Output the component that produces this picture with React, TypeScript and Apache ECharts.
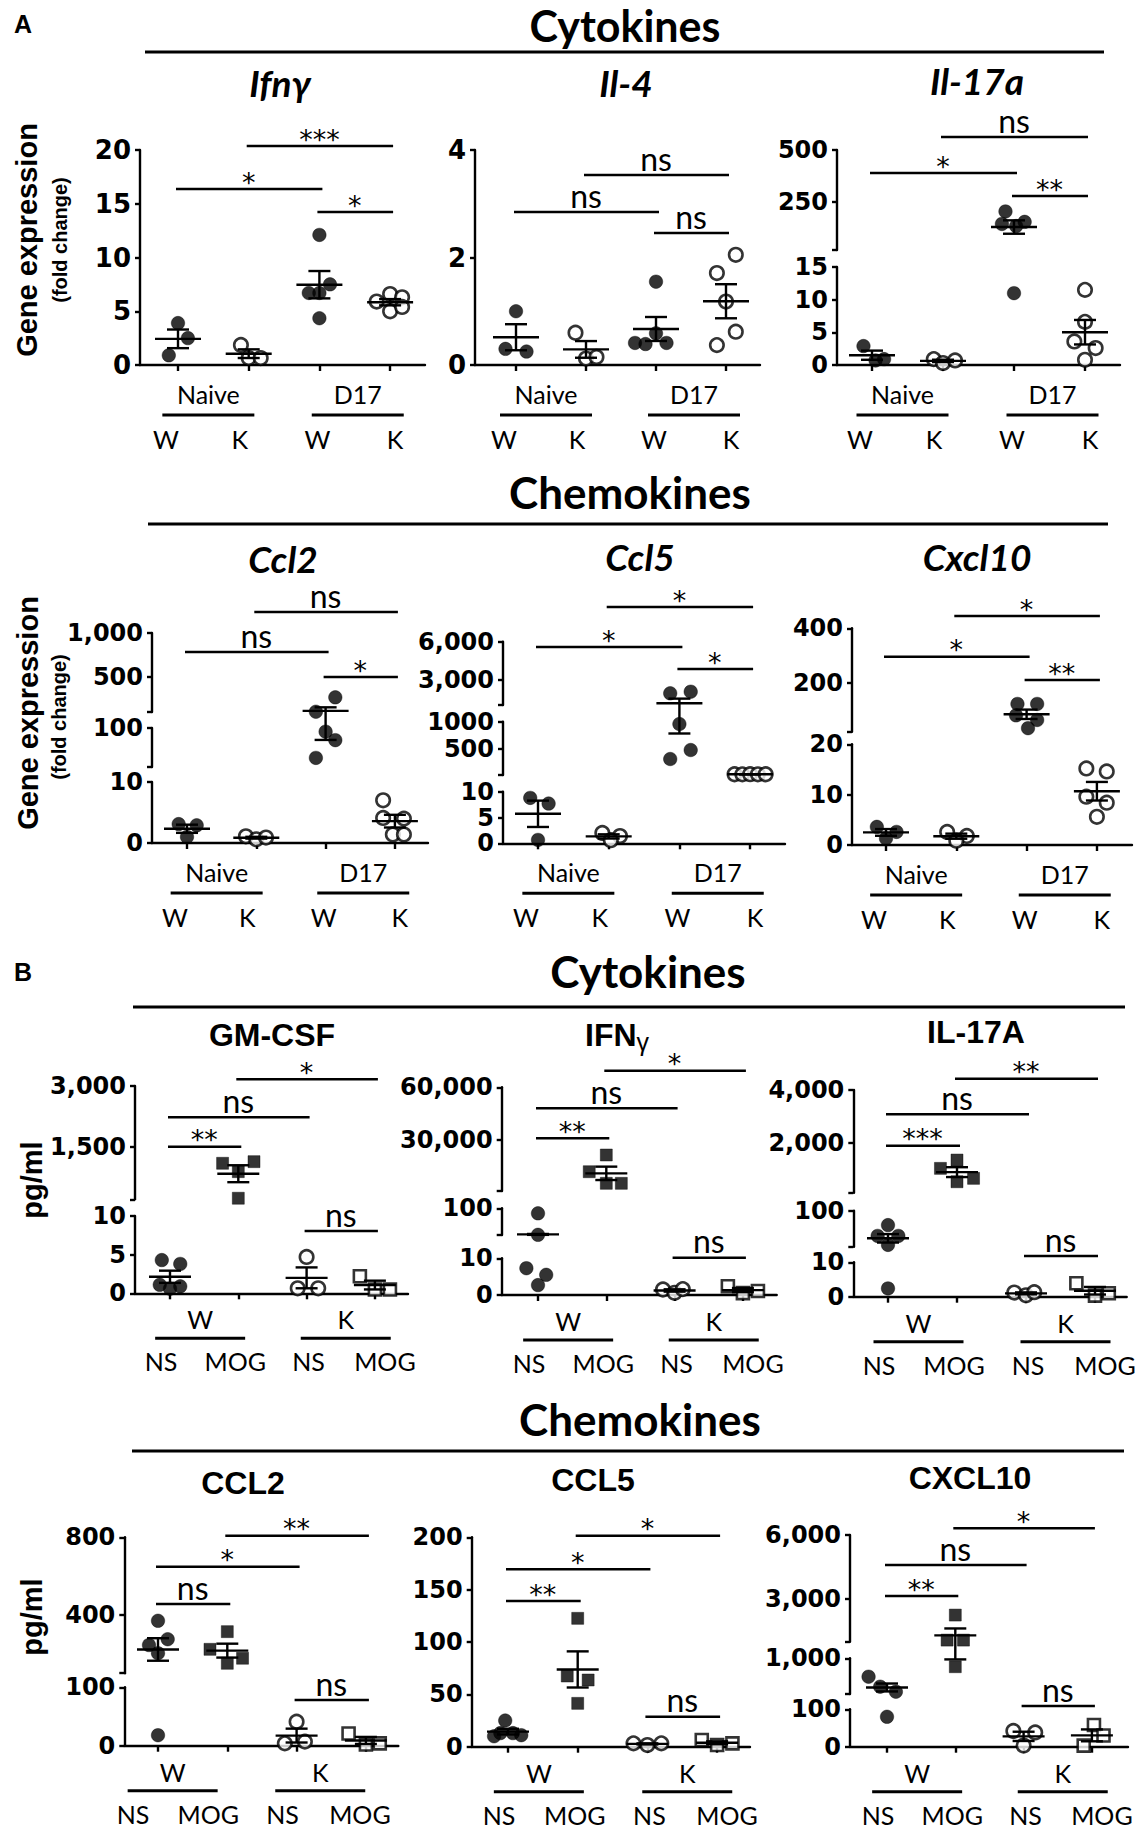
import React, { useEffect, useRef } from "react";
import * as echarts from "echarts";

type Pt = [number, number];
type Seg = [number, number, number[], boolean?];
type Sig = [number, number, string];

// ---------------- categories / labels ----------------
const catsA = ["W", "K", "W", "K"];
const groupsA = ["Naive", "D17"];
const catsB = ["NS", "MOG", "NS", "MOG"];
const groupsB = ["W", "K"];

// ---------------- A: gene expression (fold change) ----------------
// each group: [jitter (category units), value]; groups: Naive W, Naive K, D17 W, D17 K
const ifngPts: Pt[][] = [
  [[0, 3.9], [0.14, 2.5], [-0.13, 0.9]],
  [[-0.11, 1.86], [0, 0.65], [0.17, 0.65]],
  [[0, 12.1], [0.15, 7.5], [-0.15, 6.7], [0, 6.7], [0, 4.35]],
  [[-0.19, 5.9], [0, 6.6], [0.17, 6.3], [0, 5.0], [0.17, 5.4]],
];
const il4Pts: Pt[][] = [
  [[0, 1.0], [-0.15, 0.3], [0.15, 0.25]],
  [[-0.15, 0.6], [0, 0.12], [0.15, 0.15]],
  [[0, 1.55], [-0.3, 0.41], [-0.15, 0.39], [0.15, 0.41], [0, 0.59]],
  [[0.14, 2.05], [-0.13, 1.71], [0, 1.18], [0.14, 0.62], [-0.13, 0.37]],
];
const il17Pts: Pt[][] = [
  [[-0.12, 2.9], [0.05, 0.7], [0.17, 0.9]],
  [[-0.13, 0.9], [0, 0.3], [0.17, 0.7]],
  [[-0.12, 205], [-0.17, 145], [0.03, 135], [0.15, 155], [0, 11]],
  [[0, 11.5], [0, 6.6], [-0.15, 3.6], [0.15, 2.6], [0, 0.8]],
];
const ccl2APts: Pt[][] = [
  [[-0.12, 3.1], [0.14, 2.9], [0, 1.0]],
  [[-0.15, 1.1], [0, 0.6], [0.14, 0.9]],
  [[0.14, 267], [-0.14, 103], [0, 91.5], [0.14, 72], [-0.14, 31]],
  [[-0.17, 7.0], [-0.17, 4.1], [0.13, 4.0], [-0.03, 1.4], [0.13, 1.4]],
];
const ccl5APts: Pt[][] = [
  [[-0.11, 8.8], [0.15, 7.7], [0, 0.65]],
  [[-0.09, 2.0], [0.16, 1.4], [0.03, 0.6]],
  [[-0.13, 1924], [0.16, 2050], [0, 957], [-0.13, 307], [0.16, 474]],
  [[-0.22, 24], [-0.11, 22], [0, 25], [0.11, 23], [0.22, 24]],
];
const cxcl10APts: Pt[][] = [
  [[-0.13, 3.6], [0.15, 2.6], [0, 1.3]],
  [[-0.13, 2.6], [0.15, 1.8], [0, 0.85]],
  [[-0.13, 122], [0.15, 122], [-0.15, 80], [0.15, 63], [0.02, 33]],
  [[-0.15, 15.2], [0.14, 14.6], [-0.15, 9.6], [0.14, 8.4], [0, 5.6]],
];

// ---------------- B: protein (pg/ml) ----------------
// groups: W NS, W MOG, K NS, K MOG
const gmcsfPts: Pt[][] = [
  [[-0.12, 4.3], [0.15, 3.8], [-0.15, 1.1], [0.15, 0.9], [0, 0.6]],
  [[-0.23, 1090], [0.23, 1130], [0, 883], [0, 226]],
  [[0, 4.7], [-0.13, 0.65], [0.17, 0.65]],
  [[-0.22, 2.2], [0, 0.5], [0.22, 0.5]],
];
const ifngBPts: Pt[][] = [
  [[0, 83], [0, 10.5], [-0.17, 7.3], [0.12, 5.5], [0, 2.7]],
  [[0, 21480], [-0.25, 11975], [0, 5370], [0.22, 5370]],
  [[-0.17, 1.5], [0, 0.6], [0.12, 1.6]],
  [[-0.22, 2.4], [0, 0.5], [0.22, 1.1]],
];
const ifngBStats: (number[] | null)[] = [[12, 1.5], null, null, null];
const il17BPts: Pt[][] = [
  [[0, 64], [-0.15, 37], [0.15, 37], [0, 14.5], [0, 2.4]],
  [[0, 1343], [-0.24, 1027], [0.24, 648], [0, 519]],
  [[-0.17, 1.2], [0, 0.4], [0.12, 1.3]],
  [[-0.27, 3.9], [0, 0.3], [0.2, 1.0]],
];
const ccl2BPts: Pt[][] = [
  [[0, 370], [0.14, 275], [-0.13, 245], [0, 203], [0, 18]],
  [[0, 314], [-0.25, 223], [0.22, 177], [0, 151]],
  [[0, 41], [-0.17, 4], [0.12, 7]],
  [[-0.25, 21], [0, 2], [0.2, 4]],
];
const ccl5BPts: Pt[][] = [
  [[-0.04, 25], [-0.11, 13], [0.07, 13], [0.19, 11], [-0.2, 10]],
  [[0, 122.6], [-0.15, 67.5], [0.15, 63.7], [0, 41.4]],
  [[-0.2, 3.2], [0, 1.6], [0.2, 3.2]],
  [[-0.22, 6.4], [0, 1.6], [0.22, 3.2]],
];
const cxcl10BPts: Pt[][] = [
  [[-0.27, 536], [-0.1, 284], [0.13, 158], [0, 80]],
  [[0, 2248], [-0.12, 1075], [0.12, 1075], [0, 788]],
  [[-0.15, 42], [0.17, 38], [0, 3]],
  [[0.03, 58], [0.17, 30], [-0.12, 3]],
];

// ---------------- axis segments: [min, max, labelled ticks, comma] (bottom -> top) ----------------
const ifngAxis: Seg[] = [[0, 20, [0, 5, 10, 15, 20]]];
const il4Axis: Seg[] = [[0, 4, [0, 2, 4]]];
const il17Axis: Seg[] = [[0, 15, [0, 5, 10, 15]], [20, 500, [250, 500]]];
const ccl2AAxis: Seg[] = [[0, 10, [0, 10]], [10, 100, [50, 100]], [100, 1000, [500, 1000]]];
const ccl5AAxis: Seg[] = [[0, 10, [0, 5, 10]], [10, 1000, [500, 1000], false], [1000, 6000, [3000, 6000]]];
const cxcl10AAxis: Seg[] = [[0, 20, [0, 10, 20]], [20, 400, [200, 400]]];
const gmcsfAxis: Seg[] = [[0, 10, [0, 5, 10]], [200, 3000, [1500, 3000]]];
const ifngBAxis: Seg[] = [[0, 10, [0, 10]], [10, 100, [100]], [1000, 60000, [30000, 60000]]];
const il17BAxis: Seg[] = [[0, 10, [0, 10]], [10, 100, [100]], [100, 4000, [2000, 4000]]];
const ccl2BAxis: Seg[] = [[0, 100, [0, 100]], [100, 800, [400, 800]]];
const ccl5BAxis: Seg[] = [[0, 200, [0, 50, 100, 150, 200]]];
const cxcl10BAxis: Seg[] = [[0, 100, [0, 100]], [100, 1000, [1000]], [1000, 6000, [3000, 6000]]];

// ---------------- significance comparisons ----------------
const ifngSig: Sig[] = [[1, 3, "***"], [0, 2, "*"], [2, 3, "*"]];
const il4Sig: Sig[] = [[1, 3, "ns"], [0, 2, "ns"], [2, 3, "ns"]];
const il17Sig: Sig[] = [[1, 3, "ns"], [0, 2, "*"], [2, 3, "**"]];
const ccl2ASig: Sig[] = [[1, 3, "ns"], [0, 2, "ns"], [2, 3, "*"]];
const ccl5ASig: Sig[] = [[1, 3, "*"], [0, 2, "*"], [2, 3, "*"]];
const cxcl10ASig: Sig[] = [[1, 3, "*"], [0, 2, "*"], [2, 3, "**"]];
const gmcsfSig: Sig[] = [[1, 3, "*"], [0, 2, "ns"], [0, 1, "**"], [2, 3, "ns"]];
const ifngBSig: Sig[] = [[1, 3, "*"], [0, 2, "ns"], [0, 1, "**"], [2, 3, "ns"]];
const il17BSig: Sig[] = [[1, 3, "**"], [0, 2, "ns"], [0, 1, "***"], [2, 3, "ns"]];
const ccl2BSig: Sig[] = [[1, 3, "**"], [0, 2, "*"], [0, 1, "ns"], [2, 3, "ns"]];
const ccl5BSig: Sig[] = [[1, 3, "*"], [0, 2, "*"], [0, 1, "**"], [2, 3, "ns"]];
const cxcl10BSig: Sig[] = [[1, 3, "*"], [0, 2, "ns"], [0, 1, "**"], [2, 3, "ns"]];

// ---------------- styles / layout ----------------
const INK = "#000000";
const FT = "DejaVu Sans";
const FC = "Lato";
const FA = "Liberation Sans";

interface Panel {
  kind: "A" | "B";
  title: string;
  pts: Pt[][];
  axis: Seg[];
  sig: Sig[];
  stats?: (number[] | null)[];
  L: number; t0: number; sp: number; R: number; base: number;
  seg: number[][]; // [pixel bottom, pixel top] per segment
  sigY: number[];
  tx: number; ty: number;
  tickFont: number;
  labShift?: number;
}

const panels: Panel[] = [
  { kind: "A", title: "Ifnγ", pts: ifngPts, axis: ifngAxis, sig: ifngSig, L: 140, t0: 178, sp: 70.7, R: 425, base: 365, seg: [[365, 150]], sigY: [146, 189, 212], tx: 280, ty: 82, tickFont: 26 },
  { kind: "A", title: "Il-4", pts: il4Pts, axis: il4Axis, sig: il4Sig, L: 475, t0: 516, sp: 70, R: 760, base: 365, seg: [[365, 150]], sigY: [175, 212, 233], tx: 626, ty: 82, tickFont: 26 },
  { kind: "A", title: "Il-17a", pts: il17Pts, axis: il17Axis, sig: il17Sig, L: 837, t0: 872, sp: 71, R: 1120, base: 365, seg: [[365, 267], [250, 150]], sigY: [137, 173, 196], tx: 977, ty: 80, tickFont: 24 },
  { kind: "A", title: "Ccl2", pts: ccl2APts, axis: ccl2AAxis, sig: ccl2ASig, L: 152, t0: 187, sp: 69.3, R: 428, base: 843, seg: [[843, 782], [767, 728], [712, 633]], sigY: [612, 652, 677], tx: 283, ty: 558, tickFont: 24 },
  { kind: "A", title: "Ccl5", pts: ccl5APts, axis: ccl5AAxis, sig: ccl5ASig, L: 503, t0: 538, sp: 70.7, R: 785, base: 843.3, seg: [[843.3, 791.7], [775, 721.7], [705, 641.7]], sigY: [607, 647, 669], tx: 640, ty: 556, tickFont: 24 },
  { kind: "A", title: "Cxcl10", pts: cxcl10APts, axis: cxcl10AAxis, sig: cxcl10ASig, L: 852, t0: 886, sp: 70.3, R: 1132, base: 845, seg: [[845, 744.3], [731.7, 628.3]], sigY: [616, 656.7, 680], tx: 977, ty: 556, tickFont: 24 },
  { kind: "B", title: "GM-CSF", pts: gmcsfPts, axis: gmcsfAxis, sig: gmcsfSig, L: 135, t0: 170, sp: 68.3, R: 408, base: 1293.3, seg: [[1293.3, 1216], [1199.3, 1086]], sigY: [1079.3, 1117.3, 1146.7, 1231], tx: 272, ty: 1035, tickFont: 24 },
  { kind: "B", title: "IFNγ", pts: ifngBPts, axis: ifngBAxis, sig: ifngBSig, stats: ifngBStats, L: 501.7, t0: 538, sp: 68.3, R: 776.7, base: 1295, seg: [[1295, 1258.3], [1235, 1208.3], [1191, 1087.3]], sigY: [1070.7, 1108.3, 1138.3, 1257.7], tx: 617, ty: 1035, tickFont: 24 },
  { kind: "B", title: "IL-17A", pts: il17BPts, axis: il17BAxis, sig: il17BSig, L: 853.3, t0: 888, sp: 69, R: 1126.7, base: 1296.7, seg: [[1296.7, 1262.3], [1246.7, 1210.7], [1192.8, 1090]], sigY: [1078.7, 1114.3, 1145.7, 1256], tx: 976, ty: 1032, tickFont: 24 },
  { kind: "B", title: "CCL2", pts: ccl2BPts, axis: ccl2BAxis, sig: ccl2BSig, L: 124.3, t0: 158, sp: 69.3, R: 398.3, base: 1745.7, seg: [[1745.7, 1687.3], [1673.2, 1537.3]], sigY: [1535.7, 1566.7, 1604, 1700], tx: 243, ty: 1483, tickFont: 24, labShift: -16 },
  { kind: "B", title: "CCL5", pts: ccl5BPts, axis: ccl5BAxis, sig: ccl5BSig, L: 471.7, t0: 508, sp: 69.7, R: 750, base: 1746.7, seg: [[1746.7, 1537.3]], sigY: [1535.7, 1569.3, 1601, 1716.7], tx: 593, ty: 1480, tickFont: 24 },
  { kind: "B", title: "CXCL10", pts: cxcl10BPts, axis: cxcl10BAxis, sig: cxcl10BSig, L: 850, t0: 887, sp: 68.3, R: 1128, base: 1746.7, seg: [[1746.7, 1709.3], [1694, 1658.3], [1641.7, 1535]], sigY: [1528.3, 1565, 1596, 1706], tx: 970, ty: 1478, tickFont: 24 },
];

function makeMap(axis: Seg[], px: number[][], base: number) {
  return (v: number) => {
    let i = axis.findIndex((s) => v >= s[0] && v <= s[1]);
    if (i < 0) {
      if (v > axis[axis.length - 1][1]) i = axis.length - 1;
      else {
        let bd = Infinity;
        axis.forEach((s, k) => {
          const d = v < s[0] ? s[0] - v : v - s[1];
          if (d < bd) { bd = d; i = k; }
        });
      }
    }
    const [mn, mx] = axis[i];
    const [pb, pt] = px[i];
    return base - (pb + ((v - mn) / (mx - mn)) * (pt - pb));
  };
}

function meanSem(vals: number[]) {
  const n = vals.length;
  const m = vals.reduce((a, b) => a + b, 0) / n;
  const sd = Math.sqrt(vals.reduce((a, b) => a + (b - m) * (b - m), 0) / (n - 1));
  return [m, sd / Math.sqrt(n)];
}

const txt = (text: string, x: number, y: number, o: any = {}, rot = 0) => ({
  type: "text", x, y, rotation: rot, silent: true,
  style: {
    text, fill: INK, fontFamily: o.ff || FC, fontSize: o.fs || 25, fontWeight: o.fw || "normal",
    fontStyle: o.it ? "italic" : "normal", align: o.align || "center", verticalAlign: "middle",
  },
});
const rule = (x1: number, x2: number, y: number, w = 3) => ({
  type: "line", silent: true, shape: { x1, y1: y, x2, y2: y }, style: { stroke: INK, lineWidth: w },
});

function buildOption() {
  const grid: any[] = [];
  const xAxis: any[] = [];
  const yAxis: any[] = [];
  const series: any[] = [];
  const g: any[] = [];
  const line = { color: INK, width: 2.4 };

  // section headings
  g.push(txt("A", 14, 24, { ff: FA, fs: 25, fw: "bold", align: "left" }));
  g.push(txt("B", 14, 972, { ff: FA, fs: 25, fw: "bold", align: "left" }));
  g.push(txt("Cytokines", 625, 25, { fs: 43, fw: "bold" }));
  g.push(rule(145, 1104, 52, 3.2));
  g.push(txt("Chemokines", 630, 492, { fs: 44, fw: "bold" }));
  g.push(rule(148, 1108, 524, 3.2));
  g.push(txt("Cytokines", 648, 971, { fs: 44, fw: "bold" }));
  g.push(rule(133, 1125, 1007, 3.2));
  g.push(txt("Chemokines", 640, 1419, { fs: 44, fw: "bold" }));
  g.push(rule(132, 1124, 1451, 3.2));

  // y-axis titles
  g.push(txt("Gene expression", 27, 240, { ff: FA, fs: 29, fw: "bold" }, Math.PI / 2));
  g.push(txt("(fold change)", 60, 240, { ff: FA, fs: 20, fw: "bold" }, Math.PI / 2));
  g.push(txt("Gene expression", 28, 713, { ff: FA, fs: 29, fw: "bold" }, Math.PI / 2));
  g.push(txt("(fold change)", 59, 717, { ff: FA, fs: 20, fw: "bold" }, Math.PI / 2));
  g.push(txt("pg/ml", 32, 1180, { ff: FA, fs: 29, fw: "bold" }, Math.PI / 2));
  g.push(txt("pg/ml", 32, 1617, { ff: FA, fs: 29, fw: "bold" }, Math.PI / 2));

  panels.forEach((p) => {
    const top = Math.min(...p.seg.map((s) => s[1]));
    const H = p.base - top;
    const T = makeMap(p.axis, p.seg, p.base);
    const di = grid.length;
    grid.push({ left: p.L, top, width: p.R - p.L, height: H, containLabel: false, outerBoundsMode: "none" });
    const xmin = -(p.t0 - p.L) / p.sp;
    const xmax = 3 + (p.R - p.t0 - 3 * p.sp) / p.sp;
    xAxis.push({
      gridIndex: di, type: "value", min: xmin, max: xmax, position: "bottom",
      axisLine: { show: true, onZero: false, lineStyle: line },
      axisTick: { show: true, customValues: [0, 1, 2, 3], length: 6, lineStyle: line },
      axisLabel: { show: false }, splitLine: { show: false },
    });
    yAxis.push({ gridIndex: di, type: "value", min: 0, max: H, show: false });

    // broken y-axis segments
    p.axis.forEach((s, k) => {
      const [pb, pt] = p.seg[k];
      const si = grid.length;
      const comma = s[3] !== false;
      grid.push({ left: p.L, top: pt, width: 10, height: pb - pt, containLabel: false, outerBoundsMode: "none" });
      xAxis.push({ gridIndex: si, type: "value", min: 0, max: 1, show: false });
      const tv = Array.from(new Set([s[0], s[1], ...s[2]]));
      yAxis.push({
        gridIndex: si, type: "value", min: s[0], max: s[1], position: "left",
        axisLine: { show: true, onZero: false, lineStyle: line },
        axisTick: { show: true, customValues: tv, length: 5, lineStyle: line },
        axisLabel: {
          show: true, customValues: s[2], margin: 9, color: INK, fontFamily: FT, fontWeight: "bold",
          fontSize: p.tickFont, formatter: (v: number) => (comma ? v.toLocaleString("en-US") : String(v)),
        },
        splitLine: { show: false },
      });
    });

    // points
    p.pts.forEach((grp, gi) => {
      const open = p.kind === "A" ? gi % 2 === 1 : gi >= 2;
      const square = p.kind === "B" && gi % 2 === 1;
      series.push({
        type: "scatter", xAxisIndex: di, yAxisIndex: di, silent: true, clip: false, z: 3,
        symbol: square ? "rect" : "circle", symbolSize: square ? 12 : 13.5,
        itemStyle: open ? { color: "#ffffff", borderColor: INK, borderWidth: 2.6 } : { color: INK, borderColor: INK, borderWidth: 0.5 },
        emphasis: { disabled: true },
        data: grp.map(([dx, v]) => [gi + dx, T(v)]),
      });
    });

    // mean +/- SEM
    const eb = p.pts.map((grp, gi) => {
      const st = (p.stats && p.stats[gi]) || meanSem(grp.map((q) => q[1]));
      return [gi, T(st[0]), T(st[0] + st[1]), T(Math.max(st[0] - st[1], 0))];
    });
    const half = p.kind === "A" ? 23 : 21;
    series.push({
      type: "custom", xAxisIndex: di, yAxisIndex: di, silent: true, clip: false, z: 5,
      data: eb,
      renderItem: (_: any, api: any) => {
        const m = api.coord([api.value(0), api.value(1)]);
        const hi = api.coord([api.value(0), api.value(2)]);
        const lo = api.coord([api.value(0), api.value(3)]);
        const st = { stroke: INK, lineWidth: 2.4 };
        return {
          type: "group",
          children: [
            { type: "line", shape: { x1: m[0] - half, y1: m[1], x2: m[0] + half, y2: m[1] }, style: st },
            { type: "line", shape: { x1: hi[0], y1: hi[1], x2: lo[0], y2: lo[1] }, style: st },
            { type: "line", shape: { x1: hi[0] - 11, y1: hi[1], x2: hi[0] + 11, y2: hi[1] }, style: st },
            { type: "line", shape: { x1: lo[0] - 11, y1: lo[1], x2: lo[0] + 11, y2: lo[1] }, style: st },
          ],
        };
      },
    });

    // significance bars
    const sigs = p.sig;
    series.push({
      type: "custom", xAxisIndex: di, yAxisIndex: di, silent: true, clip: false, z: 5,
      data: sigs.map((s, k) => [s[0], s[1], p.base - p.sigY[k]]),
      renderItem: (params: any, api: any) => {
        const lab = sigs[params.dataIndex][2];
        const a = api.coord([api.value(0), api.value(2)]);
        const b = api.coord([api.value(1), api.value(2)]);
        const ns = lab === "ns";
        return {
          type: "group",
          children: [
            { type: "line", shape: { x1: a[0] - 2, y1: a[1], x2: b[0] + 3, y2: b[1] }, style: { stroke: INK, lineWidth: 2.6 } },
            {
              type: "text", x: (a[0] + b[0]) / 2, y: a[1] - (ns ? 17 : 7),
              style: {
                text: lab, fill: INK, fontFamily: ns ? FC : FT, fontSize: ns ? 32 : 27,
                align: "center", verticalAlign: "middle",
              },
            },
          ],
        };
      },
    });

    // panel title
    if (p.kind === "A") g.push(txt(p.title, p.tx, p.ty, { fs: 37, fw: "bold", it: true }));
    else if (p.title === "IFNγ")
      g.push({
        type: "text", x: p.tx, y: p.ty, silent: true,
        style: {
          text: "{a|IFN}{b|γ}", align: "center", verticalAlign: "middle",
          rich: {
            a: { fontFamily: FA, fontWeight: "bold", fontSize: 32, fill: INK, color: INK },
            b: { fontFamily: FA, fontSize: 25, fill: INK, color: INK, padding: [14, 0, 0, 0] },
          },
        },
      });
    else g.push(txt(p.title, p.tx, p.ty, { ff: FA, fs: 32, fw: "bold" }));

    // category and group labels under the x axis
    const sh = p.labShift || 0;
    const tick = (i: number) => p.t0 + i * p.sp + sh;
    const cats = p.kind === "A" ? catsA : catsB;
    const groups = p.kind === "A" ? groupsA : groupsB;
    const labDx = p.kind === "A" ? [-12, -9, -2, 5] : [-9, -3, 2, 10];
    const grpDx = p.kind === "A" ? [-5, 3] : [-4, 5];
    const yG = p.kind === "A" ? 29 : 26;
    const yR = p.kind === "A" ? 50 : 45;
    const yC = p.kind === "A" ? 74 : 68;
    const halfR = p.kind === "A" ? 46 : 45;
    [0, 1].forEach((k) => {
      const cx = (tick(2 * k) + tick(2 * k + 1)) / 2 + grpDx[k];
      g.push(txt(groups[k], cx, p.base + yG, { fs: 25 }));
      g.push(rule(cx - halfR, cx + halfR, p.base + yR, 3));
    });
    cats.forEach((c, i) => g.push(txt(c, tick(i) + labDx[i], p.base + yC, { fs: 25 })));
  });

  return {
    animation: false,
    backgroundColor: "#ffffff",
    textStyle: { fontFamily: FC, color: INK },
    grid, xAxis, yAxis, series,
    graphic: { elements: g },
  };
}

export default function App() {
  const ref = useRef<HTMLDivElement>(null);
  useEffect(() => {
    const chart = echarts.init(ref.current!, null, { renderer: "svg", width: 1147, height: 1829 });
    chart.setOption(buildOption() as any);
    return () => chart.dispose();
  }, []);
  return (
    <div
      ref={ref}
      style={{ position: "absolute", left: 0, top: 0, width: 1147, height: 1829, background: "#fff" }}
    />
  );
}
